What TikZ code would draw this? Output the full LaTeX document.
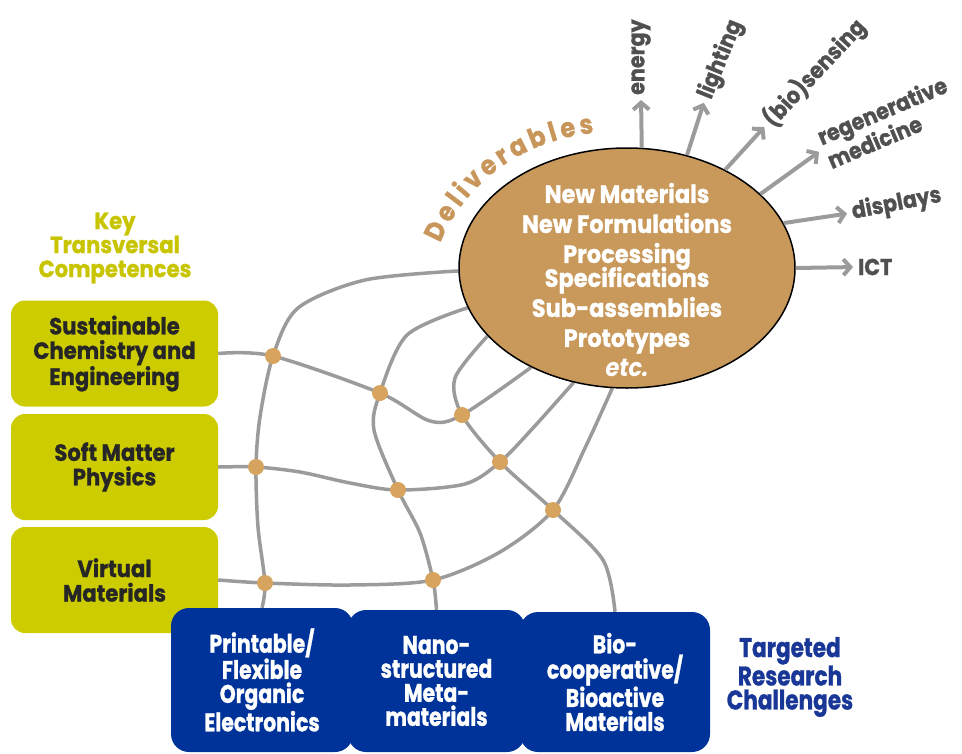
\documentclass[tikz,border=0pt]{standalone}
\usepackage{fontspec}
\newfontfamily\futfont{Poppins}[FakeStretch=0.9, BoldFeatures={FakeBold=1}]
\newfontfamily\futcond{Poppins}[FakeStretch=0.8, BoldFeatures={FakeBold=1}]
\usetikzlibrary{shapes.geometric,arrows.meta,decorations.text,backgrounds}

\definecolor{ktcyellow}{RGB}{204,204,0}
\definecolor{ktctext}{RGB}{200,196,0}
\definecolor{rcblue}{RGB}{0,51,153}
\definecolor{rctext}{RGB}{25,55,150}
\definecolor{delivfill}{RGB}{201,153,91}
\definecolor{delivtext}{RGB}{200,150,90}
\definecolor{linkgray}{RGB}{155,155,155}
\definecolor{dotfill}{RGB}{214,164,95}
\definecolor{lblgray}{RGB}{80,80,80}
\definecolor{boxtext}{RGB}{38,38,38}

\tikzset{
  ktcbox/.style={fill=ktcyellow, rounded corners=14pt, minimum width=207pt,
    minimum height=106pt, align=center, text=boxtext,
    font=\futfont\bfseries\fontsize{23.5}{24.5}\selectfont},
  rcbox/.style={fill=rcblue, rounded corners=18pt, align=center, text=white,
    font=\futcond\bfseries\fontsize{25.5}{24}\selectfont},
  heading/.style={align=center, font=\futfont\bfseries\fontsize{23.5}{24}\selectfont},
  dot/.style={circle, fill=dotfill, minimum size=16pt, inner sep=0pt},
  link/.style={draw=linkgray, line width=3.5pt},
  outarrow/.style={draw=linkgray, line width=4pt, shorten >=4pt,
    -{Straight Barb[length=7pt,width=16pt]}},
  outlbl/.style={anchor=west, text=lblgray, inner sep=1pt,
    font=\futfont\bfseries\fontsize{23}{21}\selectfont}
}

\begin{document}
\begin{tikzpicture}[x=1pt,y=-1pt]
  \useasboundingbox (0,0) rectangle (962,753);

  % key transversal competences
  \node[heading, text=ktctext] (ktctitle) at (115,248) {Key\\Transversal\\Competences};
  \node[ktcbox] (ktc1) at (114.5,353.5) {Sustainable\\Chemistry and\\Engineering};
  \node[ktcbox] (ktc2) at (114.5,467) {Soft Matter\\Physics};
  \node[ktcbox] (ktc3) at (114.5,580) {Virtual\\Materials};

  % targeted research challenges
  \node[rcbox, minimum width=190pt, minimum height=140pt] (rcC) at (615,682)
    {Bio-\\cooperative/\\Bioactive\\Materials};
  \node[rcbox, minimum width=177pt, minimum height=142pt] (rcB) at (436.5,681)
    {Nano-\\structured\\Meta-\\materials};
  \node[rcbox, minimum width=182pt, minimum height=144pt] (rcA) at (262,680)
    {Printable/\\Flexible\\Organic\\Electronics};
  \node[heading, text=rctext, font=\futcond\bfseries\fontsize{27}{24}\selectfont]
    (rctitle) at (790,677) {Targeted\\Research\\Challenges};

  % deliverables
  \node[ellipse, draw=black, line width=1.5pt, fill=delivfill, minimum width=336pt,
    minimum height=240pt, inner sep=0pt] (deliv) at (627,268) {};
  \node[align=center, text=white, font=\futfont\bfseries\fontsize{25}{30}\selectfont]
    (delivlist) at (627,280)
    {New Materials\\New Formulations\\Processing\\[-6pt]Specifications\\Sub-assemblies\\Prototypes\\\textit{etc.}};
  \path[decorate, decoration={text along path, text align={fit to path},
    text color=delivtext,
    text={|\futfont\bfseries\fontsize{27}{27}\selectfont|Deliverables}}]
    (440,243) .. controls (466,183) and (520,141) .. (594,133);

  % applications
  \node[outlbl, rotate=90] (energy) at (641,96) {energy};
  \node[outlbl, rotate=68] (lighting) at (705,99) {lighting};
  \node[outlbl, rotate=47] (biosens) at (767,124) {(bio)sensing};
  \node[outlbl, anchor=center, align=left, rotate=23] (regen) at (887,122)
    {regenerative\\medicine};
  \node[outlbl, rotate=11] (displays) at (851,213) {displays};
  \node[outlbl] (ict) at (857,267) {ICT};

  \draw[outarrow] (deliv.83.4) -- (energy.west);
  \draw[outarrow] (deliv.62.4) -- (lighting.west);
  \draw[outarrow] (deliv.45.3) -- (biosens.west);
  \draw[outarrow] (deliv.29.7) -- (regen.west);
  \draw[outarrow] (deliv.16.2) -- (displays.west);
  \draw[outarrow] (deliv.0.3) -- (ict.west);

  % crossings
  \foreach \n/\x/\y in {d1/273/356, d2/380/393, d3/462/415, d4/256/467,
      d5/398/490, d6/500/462, d7/553/510, d8/265/583, d9/433/580}
    \node[dot] (\n) at (\x,\y) {};

  \begin{scope}[on background layer]
    \draw[link] plot[smooth] coordinates {(rcA.north) (d8) (258,527) (d4) (260,417)
      (d1) (298,308) (365,280) (deliv.181.7)};
    \draw[link] plot[smooth] coordinates {(rcB.north) (d9) (420,533) (d5) (374,430)
      (d2) (407,335) (deliv.194)};
    \draw[link] plot[smooth] coordinates {(rcC.north) (603,560) (d7) (d6) (d3)
      (455,378) (deliv.206.6)};
    \draw[link] plot[smooth] coordinates {(ktc1.east) (d1) (d2) (430,421) (d3)
      (deliv.226)};
    \draw[link] plot[smooth] coordinates {(ktc2.east) (d4) (300,472) (350,483) (d5)
      (465,484) (d6) (533,428) (deliv.245)};
    \draw[link] plot[smooth] coordinates {(ktc3.east) (d8) (350,585) (d9) (500,552)
      (d7) (585,448) (deliv.263)};
  \end{scope}
\end{tikzpicture}
\end{document}
